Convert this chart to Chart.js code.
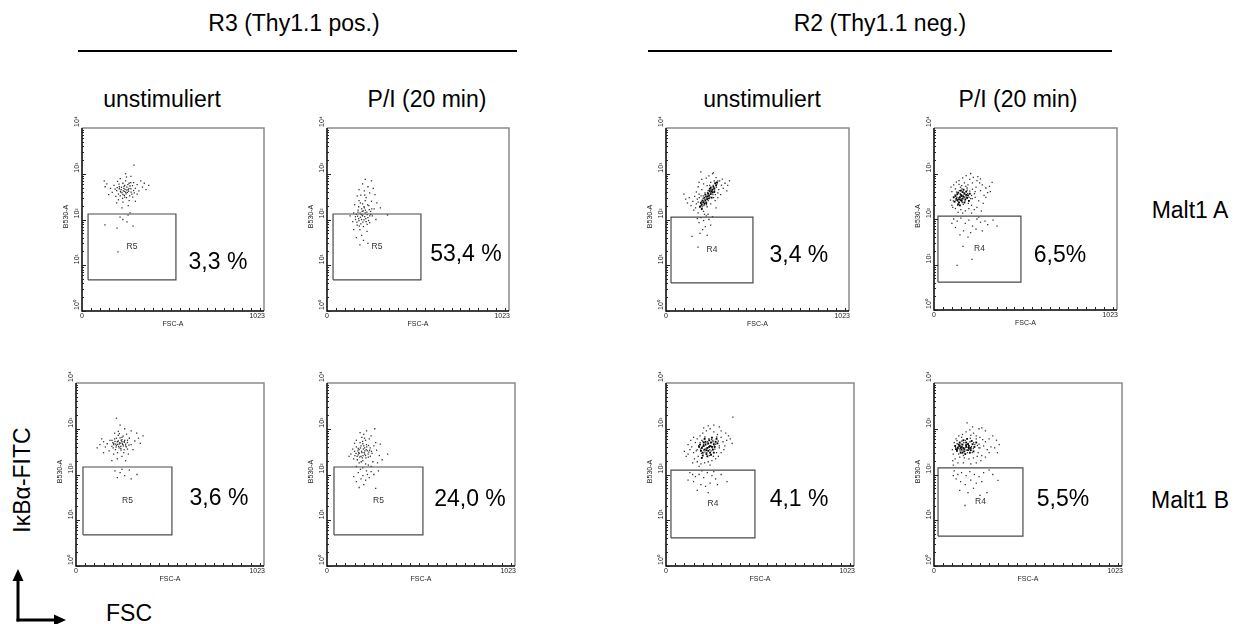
<!DOCTYPE html>
<html>
<head>
<meta charset="utf-8">
<script src="https://cdn.jsdelivr.net/npm/chart.js@4.4.1/dist/chart.umd.min.js"></script>
<style>
body { margin: 0; background: #fff; }
#page { position: relative; width: 1244px; height: 624px; overflow: hidden; font-family: "Liberation Sans", Arial, sans-serif; color: #000; }
.txt { position: absolute; font-size: 23px; line-height: 1; white-space: nowrap; transform: translate(-50%, -50%); }
.rule { position: absolute; height: 2px; background: #000; }
canvas { position: absolute; }
</style>
</head>
<body>
<div id="page">
  <div class="txt" style="left:294px;top:23px">R3 (Thy1.1 pos.)</div>
  <div class="rule" style="left:78px;top:50px;width:439px"></div>
  <div class="txt" style="left:880px;top:23px">R2 (Thy1.1 neg.)</div>
  <div class="rule" style="left:648px;top:50px;width:464px"></div>

  <div class="txt" style="left:162px;top:99px">unstimuliert</div>
  <div class="txt" style="left:427px;top:99px">P/I (20 min)</div>
  <div class="txt" style="left:762px;top:99px">unstimuliert</div>
  <div class="txt" style="left:1018px;top:99px">P/I (20 min)</div>

  <div class="txt" style="left:1190px;top:210px">Malt1 A</div>
  <div class="txt" style="left:1190px;top:500px">Malt1 B</div>

  <div class="txt" style="left:22px;top:480px;transform:translate(-50%,-50%) rotate(-90deg)">IκBα-FITC</div>
  <div class="txt" style="left:129px;top:613px">FSC</div>

  <svg style="position:absolute;left:0;top:560px" width="80" height="64">
    <line x1="18" y1="19" x2="18" y2="61.5" stroke="#000" stroke-width="3"/>
    <polygon points="18,9 12.5,21 23.5,21" fill="#000"/>
    <line x1="16.5" y1="60" x2="56" y2="60" stroke="#000" stroke-width="3"/>
    <polygon points="66,60 54,54.5 54,65.5" fill="#000"/>
  </svg>
</div>

<script>
// --- Daten (FSC-A linear 0..1023, B530-A log 10^0..10^4) ---
const yTickValues = [1, 10, 100, 1000, 10000];
const yTickLabels = ['10⁰', '10¹', '10²', '10³', '10⁴'];
const xTickValues = [0, 1023];
const xTickLabels = ['0', '1023'];

const gateNames = ['R5', 'R5', 'R4', 'R4', 'R5', 'R5', 'R4', 'R4'];
const gatePercents = ['3,3 %', '53,4 %', '3,4 %', '6,5%', '3,6 %', '24,0 %', '4,1 %', '5,5%'];
const gateX = [[34, 528], [34, 528], [28, 486], [22, 486], [38, 522], [38, 522], [27, 484], [22, 484]];
const gateY = [[4.8, 132], [4.8, 132], [4.1, 113], [4.1, 116], [4.8, 146], [4.8, 146], [4.1, 125], [4.5, 139]];

// R3 unstimuliert, Malt1 A
const r3UnstimA = [[240,410],[225,380],[260,450],[210,520],[280,360],[250,300],[230,620],[270,540],[195,430],[300,480],
  [215,330],[245,700],[290,640],[180,560],[320,420],[205,270],[265,260],[235,480],[255,390],[275,470],[220,450],[285,310],
  [310,580],[170,390],[340,510],[200,680],[250,850],[160,480],[330,700],[230,240],[300,250],[190,320],[350,620],[140,600],
  [360,450],[275,880],[215,780],[130,520],[375,560],[245,1000],[292,1550],[150,350],[260,200],[225,180],[310,360],[195,230],
  [125,700],[240,560],[265,620],[218,395],[238,335],[252,510],
  [232,420],[248,365],[262,415],[222,505],[205,360],[276,395],[242,455],[258,580],[228,290],[290,430],[210,470],[268,330],
  [236,530],[252,440],[216,410],[284,550],[198,500],[246,390],[264,480],[230,350],[274,640],[208,590],[240,310],[294,380],
  [186,460],
  [129,76],[197,65],[214,113],[253,89],[259,125],[287,72],[202,19.5],[230,100],[270,140]];

// R3 P/I, Malt1 A
const r3PiA = [[200,120],[180,95],[215,140],[190,80],[230,110],[165,130],[205,70],[245,150],[175,160],[220,90],[185,60],
  [240,85],[160,100],[210,180],[195,45],[255,120],[170,75],[225,55],[150,140],[265,170],[235,200],[200,220],[180,260],
  [220,300],[250,250],[190,340],[210,420],[240,380],[170,330],[230,520],[200,600],[260,480],[180,450],[215,750],[250,700],
  [270,350],[155,210],[280,230],[300,180],[340,125],[145,90],[165,40],[205,35],[230,30],[185,28],[150,60],[275,100],
  [130,120],[215,260],[195,170],[238,165],[188,112],[208,98],[172,118],[226,128],[198,150],
  [192,130],[212,115],[178,105],[224,145],[202,88],[186,140],[234,95],[168,88],[216,160],[198,125],[246,130],[182,72],
  [208,190],[160,115],[226,78],[194,100],[240,120],[174,145],[218,105],[204,155],[188,230],[228,210],[178,190],[252,170],
  [212,340]];

// R2 unstimuliert, Malt1 A
const r2UnstimACore = [[190,190],[200,210],[210,240],[220,260],[215,300],[230,280],[240,330],[235,370],[250,360],[255,410],
  [260,450],[270,480],[245,420],[225,230],[205,260],[265,520],[280,560],[275,620],[250,500],[230,320],[215,220],[200,170],
  [240,290],[260,390],[285,650],[220,350],[195,230],[245,470],[255,300],[270,400]];
const r2UnstimA = [[150,250],[160,320],[170,400],[180,520],[175,280],[140,200],[130,300],[120,230],[165,180],[185,650],
  [200,750],[210,600],[225,800],[240,900],[260,1000],[280,820],[300,700],[310,560],[320,480],[330,620],[340,420],[295,450],
  [305,350],[290,300],[315,760],[270,700],[250,650],[230,550],[200,450],[185,360],[170,220],[155,160],[210,150],[230,190],
  [250,220],[275,260],[290,380],[345,560],[355,700],[110,280],[100,360],[195,1100],[265,1050],[180,140],[280,180],
  [205,230],[218,275],[228,305],[238,345],[248,385],[258,430],[268,470],[212,200],[224,240],[236,260],[246,310],[262,350],
  [272,440],[282,510],[198,250],[208,290],[222,320],[232,390],[242,440],[252,460],[194,200],[202,190],[226,210],[264,560],
  [286,600],[290,700],[244,560],[236,430],[218,380],[208,330],[180,240],[186,300],[196,330],[276,350],[266,300],
  [195,110],[210,95],[225,120],[185,85],[240,100],[220,70],[205,60],[250,75],[190,50],[230,45],[175,105],[260,115],
  [145,43],[179,25],[215,130],[235,130]];

// R2 P/I, Malt1 A
const r2PiACore = [[130,260],[145,300],[160,280],[150,340],[120,320],[170,360],[140,230],[155,250],[165,310],[135,380],
  [180,400],[125,280],[150,420],[175,270],[190,330],[115,240],[145,200],[160,390],[130,350],[185,290],[140,270],[155,320],
  [170,230],[200,360],[110,300],[150,260],[165,440],[135,210],[180,340],[195,250]];
const r2PiA = [[100,400],[95,500],[110,560],[125,650],[140,700],[160,800],[180,900],[205,1000],[220,820],[240,700],
  [255,620],[270,560],[290,480],[310,520],[325,640],[300,380],[280,330],[260,420],[235,500],[215,450],[230,300],[250,250],
  [275,220],[210,200],[195,170],[225,160],[175,150],[150,160],[120,170],[100,200],[92,260],[105,180],[190,560],[170,620],
  [155,540],[120,460],[215,620],[245,850],[200,740],[260,760],[290,300],[315,400],[240,180],[265,150],[210,135],[135,140],
  [160,135],[185,480],[230,400],[205,280],
  [138,290],[152,275],[162,330],[128,300],[172,300],[146,360],[158,230],[134,240],[180,320],[122,260],[168,380],[142,420],
  [188,360],[118,340],[156,460],[174,250],[196,300],[132,200],[210,330],[148,500],[186,430],[126,390],[200,410],[164,210],
  [214,280],[108,250],[178,520],[226,360],[140,580],[192,220],
  [110,100],[130,90],[150,105],[175,80],[195,95],[215,70],[240,100],[260,85],[285,90],[120,65],[165,55],[205,50],
  [235,60],[300,75],[330,95],[145,45],[190,40],[270,55],[352,70],[162,25],[212,13],[129,9.6],[250,110],[100,80]];

// R3 unstimuliert, Malt1 B
const r3UnstimB = [[240,480],[225,520],[255,450],[210,600],[270,420],[235,380],[250,650],[220,430],[265,560],[200,500],
  [280,500],[245,340],[230,720],[260,300],[215,350],[290,620],[195,410],[300,450],[275,760],[205,280],[250,250],[185,560],
  [320,540],[230,880],[170,470],[340,620],[210,800],[265,1000],[180,330],[310,350],[150,520],[350,480],[285,280],[225,220],
  [160,400],[240,1200],[300,900],[130,450],[365,700],[270,200],[195,200],[220,1700],[115,380],[250,580],[235,460],[262,520],
  [218,395],[244,410],[205,450],[280,360],[150,300],[330,800],[140,600],
  [238,500],[252,470],[226,455],[264,510],[212,530],[246,560],[232,410],[270,460],[220,620],[258,420],[206,480],[244,370],
  [280,560],[230,540],[256,690],[196,560],[274,400],[216,460],[240,630],[262,350],[226,300],[288,440],[202,380],[250,520],
  [236,780],
  [212,120],[240,110],[265,95],[290,125],[332,100],[225,85],[300,80],[250,130]];

// R3 P/I, Malt1 B
const r3PiB = [[190,300],[175,350],[205,280],[160,400],[220,330],[185,250],[200,420],[170,270],[215,450],[150,320],
  [235,380],[195,200],[180,500],[225,240],[165,210],[245,290],[210,560],[140,360],[255,420],[190,650],[230,600],[160,560],
  [270,340],[200,750],[240,700],[150,480],[180,820],[215,900],[265,500],[130,280],[285,260],[300,210],[175,180],[210,170],
  [250,190],[145,220],[225,160],[160,150],[195,140],[240,150],[330,280],[290,460],[275,180],[120,250],[260,1000],[205,380],
  [185,420],[228,310],[172,300],[152,260],[212,230],[195,470],
  [188,320],[202,300],[176,290],[214,350],[196,260],[168,330],[224,280],[182,380],[206,330],[192,230],[232,340],[158,290],
  [216,400],[198,360],[178,240],[242,320],[186,190],[210,260],[170,370],[226,430],[194,530],[236,250],[164,250],[204,620],
  [182,130],
  [170,110],[195,95],[220,100],[185,80],[210,75],[240,115],[160,70],[230,85],[200,60],[145,90],[175,52],[255,100],
  [280,120],[265,50],[215,120]];

// R2 unstimuliert, Malt1 B
const r2UnstimBCore = [[210,350],[225,380],[240,420],[200,300],[230,330],[215,450],[250,400],[195,380],[220,280],[245,500],
  [260,460],[205,420],[235,560],[190,330],[225,250],[270,520],[255,350],[180,400],[215,520],[240,300],[200,260],[230,480],
  [265,400],[210,600],[250,640],[185,450],[220,340],[275,600],[195,230],[235,400],[280,480],[245,270],[205,500],[260,300]];
const r2UnstimB = [[150,300],[140,400],[160,500],[130,350],[120,280],[170,600],[175,250],[155,220],[185,700],[200,800],
  [220,900],[240,1000],[260,850],[280,750],[300,650],[310,520],[320,420],[330,560],[340,700],[290,380],[300,300],[285,250],
  [270,220],[250,200],[230,190],[210,180],[190,170],[170,190],[145,180],[110,250],[100,320],[120,450],[135,560],[150,650],
  [260,1200],[230,1150],[300,900],[350,600],[360,480],[364,1800],[275,300],[195,560],[315,350],[325,800],[255,560],[165,330],
  [180,150],[240,160],[205,1050],[290,1100],
  [218,370],[232,400],[206,340],[244,430],[212,310],[228,460],[252,380],[198,410],[238,350],[262,420],[216,490],[246,330],
  [204,450],[270,460],[226,520],[188,360],[256,520],[222,300],[234,610],[194,290],[284,540],[212,660],[248,580],[178,430],
  [266,360],[236,260],[200,530],[276,660],[186,500],[258,250],[170,350],[290,420],
  [130,110],[160,90],[180,100],[205,85],[225,110],[250,95],[270,80],[300,100],[150,70],[190,60],[215,55],[240,65],
  [280,60],[120,75],[170,45],[230,40],[332,70],[260,115],[195,120],[145,100]];

// R2 P/I, Malt1 B
const r2PiBCore = [[160,380],[175,400],[150,350],[190,420],[140,420],[165,320],[185,340],[130,380],[200,380],[155,450],
  [175,500],[145,300],[210,460],[125,330],[170,280],[195,300],[160,560],[140,500],[220,400],[180,600],[115,420],[205,540],
  [150,400],[185,460],[230,500],[135,450],[165,360],[200,340],[120,360],[175,440],[215,320],[145,380],[190,380],[155,300]];
const r2PiB = [[105,280],[100,350],[110,500],[120,600],[135,700],[155,750],[175,850],[195,950],[215,800],[230,700],
  [250,650],[265,580],[280,520],[300,600],[320,700],[340,560],[355,450],[310,400],[290,350],[270,420],[250,380],[240,300],
  [260,260],[235,250],[215,230],[190,220],[165,230],[140,240],[115,220],[102,200],[105,160],[130,180],[160,180],[200,170],
  [230,180],[255,200],[280,240],[300,300],[245,1000],[210,1100],[180,1350],[280,900],[260,1050],[125,550],[150,650],
  [200,720],[230,600],[245,460],[330,380],[345,300],
  [165,370],[180,390],[152,410],[194,360],[140,360],[172,430],[158,330],[186,480],[132,410],[204,410],[148,460],[176,340],
  [214,370],[128,350],[162,500],[196,520],[142,330],[222,450],[170,560],[118,390],[208,300],[152,540],[236,430],[182,300],
  [126,470],[198,620],[160,260],[244,380],[134,280],[216,500],
  [110,120],[130,100],[150,110],[175,95],[195,115],[220,100],[245,90],[270,110],[300,125],[120,80],[145,70],[170,60],
  [200,75],[230,65],[260,70],[140,45],[185,40],[215,50],[250,35],[320,100],[169,21],[348,74],[288,40],[105,95]];

const clouds = [r3UnstimA, r3PiA, r2UnstimA, r2PiA, r3UnstimB, r3PiB, r2UnstimB, r2PiB];
const cores = [[], [], r2UnstimACore, r2PiACore, [], [], r2UnstimBCore, r2PiBCore];

// --- Layout (Pixel) ---
const panels = [
  { left: 82, top: 128, w: 182, h: 183 },
  { left: 327, top: 128, w: 182, h: 183 },
  { left: 666, top: 128, w: 183, h: 183 },
  { left: 934, top: 128, w: 183, h: 182 },
  { left: 76, top: 383, w: 188, h: 183 },
  { left: 327, top: 383, w: 188, h: 183 },
  { left: 666, top: 383, w: 188, h: 183 },
  { left: 934, top: 383, w: 188, h: 183 }
];
// Position der Prozentangabe, in Datenkoordinaten
const pctPos = [[764, 11.2], [781, 16.7], [743, 15.9], [704, 15.4], [778, 29], [778, 27.7], [724, 27.7], [702, 27.7]];
const PAD = { left: 30, top: 16, right: 10, bottom: 22 };
const FONT = '"Liberation Sans", Arial, sans-serif';

// Teilstriche
const xMinorTicks = [50,100,150,200,250,300,350,400,450,500,550,600,650,700,750,800,850,900,950,1000];
const yMinorTicks = [];
for (let d = 1; d < 10000; d *= 10) {
  for (let k = 1; k < 10; k++) yMinorTicks.push(k * d);
}

// Plugin: Rahmen, Achsenbeschriftung, Gate-Namen, Prozentwerte
const flowAxes = {
  id: 'flowAxes',
  afterDraw(chart, args, opts) {
    const i = opts.idx;
    const { ctx, chartArea: a } = chart;
    const x = chart.scales.x, y = chart.scales.y;
    ctx.save();

    // Rahmen: oben/rechts grau, links/unten schwarz
    ctx.lineWidth = 1.5;
    ctx.strokeStyle = '#8a8a8a';
    ctx.beginPath();
    ctx.moveTo(a.left, a.top); ctx.lineTo(a.right, a.top); ctx.lineTo(a.right, a.bottom);
    ctx.stroke();
    ctx.strokeStyle = '#000';
    ctx.beginPath();
    ctx.moveTo(a.left, a.top); ctx.lineTo(a.left, a.bottom); ctx.lineTo(a.right, a.bottom);
    ctx.stroke();

    // Teilstriche nach innen
    ctx.lineWidth = 1;
    ctx.strokeStyle = '#222';
    ctx.beginPath();
    xMinorTicks.forEach(v => {
      const px = Math.round(x.getPixelForValue(v)) + 0.5;
      ctx.moveTo(px, a.bottom); ctx.lineTo(px, a.bottom - 3);
    });
    yMinorTicks.forEach(v => {
      const py = Math.round(y.getPixelForValue(v)) + 0.5;
      const len = yTickValues.includes(v) ? 4 : 2;
      ctx.moveTo(a.left, py); ctx.lineTo(a.left + len, py);
    });
    ctx.stroke();

    // y-Beschriftung (gedreht)
    ctx.fillStyle = '#222';
    ctx.font = '7px ' + FONT;
    yTickValues.forEach((v, k) => {
      ctx.save();
      ctx.translate(a.left - 1.5, y.getPixelForValue(v) - 1);
      ctx.rotate(-Math.PI / 2);
      ctx.textAlign = 'left';
      ctx.textBaseline = 'bottom';
      ctx.fillText(yTickLabels[k], 0, 0);
      ctx.restore();
    });
    ctx.save();
    ctx.translate(a.left - 12, y.getPixelForValue(100) - 3);
    ctx.rotate(-Math.PI / 2);
    ctx.textAlign = 'center';
    ctx.textBaseline = 'bottom';
    ctx.fillText('B530-A', 0, 0);
    ctx.restore();

    // x-Beschriftung
    ctx.textBaseline = 'top';
    ctx.textAlign = 'center';
    ctx.fillText(xTickLabels[0], x.getPixelForValue(xTickValues[0]), a.bottom + 2);
    ctx.textAlign = 'right';
    ctx.fillText(xTickLabels[1], x.getPixelForValue(xTickValues[1]) + 1, a.bottom + 2);
    ctx.textAlign = 'center';
    ctx.fillText('FSC-A', (a.left + a.right) / 2, a.bottom + 10);

    // Gate-Name in der Mitte des Gates
    const [gx0, gx1] = gateX[i], [gy0, gy1] = gateY[i];
    ctx.font = '8.5px ' + FONT;
    ctx.fillStyle = '#333';
    ctx.textBaseline = 'middle';
    ctx.fillText(gateNames[i], x.getPixelForValue((gx0 + gx1) / 2), y.getPixelForValue(Math.sqrt(gy0 * gy1)));

    // Prozentwert
    ctx.font = '23px ' + FONT;
    ctx.fillStyle = '#000';
    ctx.fillText(gatePercents[i], x.getPixelForValue(pctPos[i][0]), y.getPixelForValue(pctPos[i][1]));

    ctx.restore();
  }
};

const page = document.getElementById('page');

function makeChart(i) {
  const p = panels[i];
  const cv = document.createElement('canvas');
  cv.width = p.w + PAD.left + PAD.right;
  cv.height = p.h + PAD.top + PAD.bottom;
  cv.style.left = (p.left - PAD.left) + 'px';
  cv.style.top = (p.top - PAD.top) + 'px';
  page.appendChild(cv);

  const [gx0, gx1] = gateX[i], [gy0, gy1] = gateY[i];
  new Chart(cv, {
    type: 'scatter',
    data: {
      datasets: [
        {
          data: [[gx0, gy0], [gx1, gy0], [gx1, gy1], [gx0, gy1], [gx0, gy0]],
          showLine: true,
          borderColor: '#4a4a4a',
          borderWidth: 1.2,
          pointRadius: 0,
          fill: false
        },
        {
          data: clouds[i],
          pointStyle: 'rect',
          pointRadius: 0.9,
          backgroundColor: '#303030',
          borderWidth: 0
        },
        {
          data: cores[i],
          pointStyle: 'rect',
          pointRadius: 1.3,
          backgroundColor: '#000',
          borderWidth: 0
        }
      ]
    },
    options: {
      responsive: false,
      animation: false,
      events: [],
      layout: { padding: PAD },
      scales: {
        x: { type: 'linear', min: 0, max: 1023, display: false },
        y: { type: 'logarithmic', min: 1, max: 10000, display: false }
      },
      plugins: {
        legend: { display: false },
        tooltip: { enabled: false },
        flowAxes: { idx: i }
      }
    },
    plugins: [flowAxes]
  });
}

for (let i = 0; i < panels.length; i++) makeChart(i);
</script>
</body>
</html>
